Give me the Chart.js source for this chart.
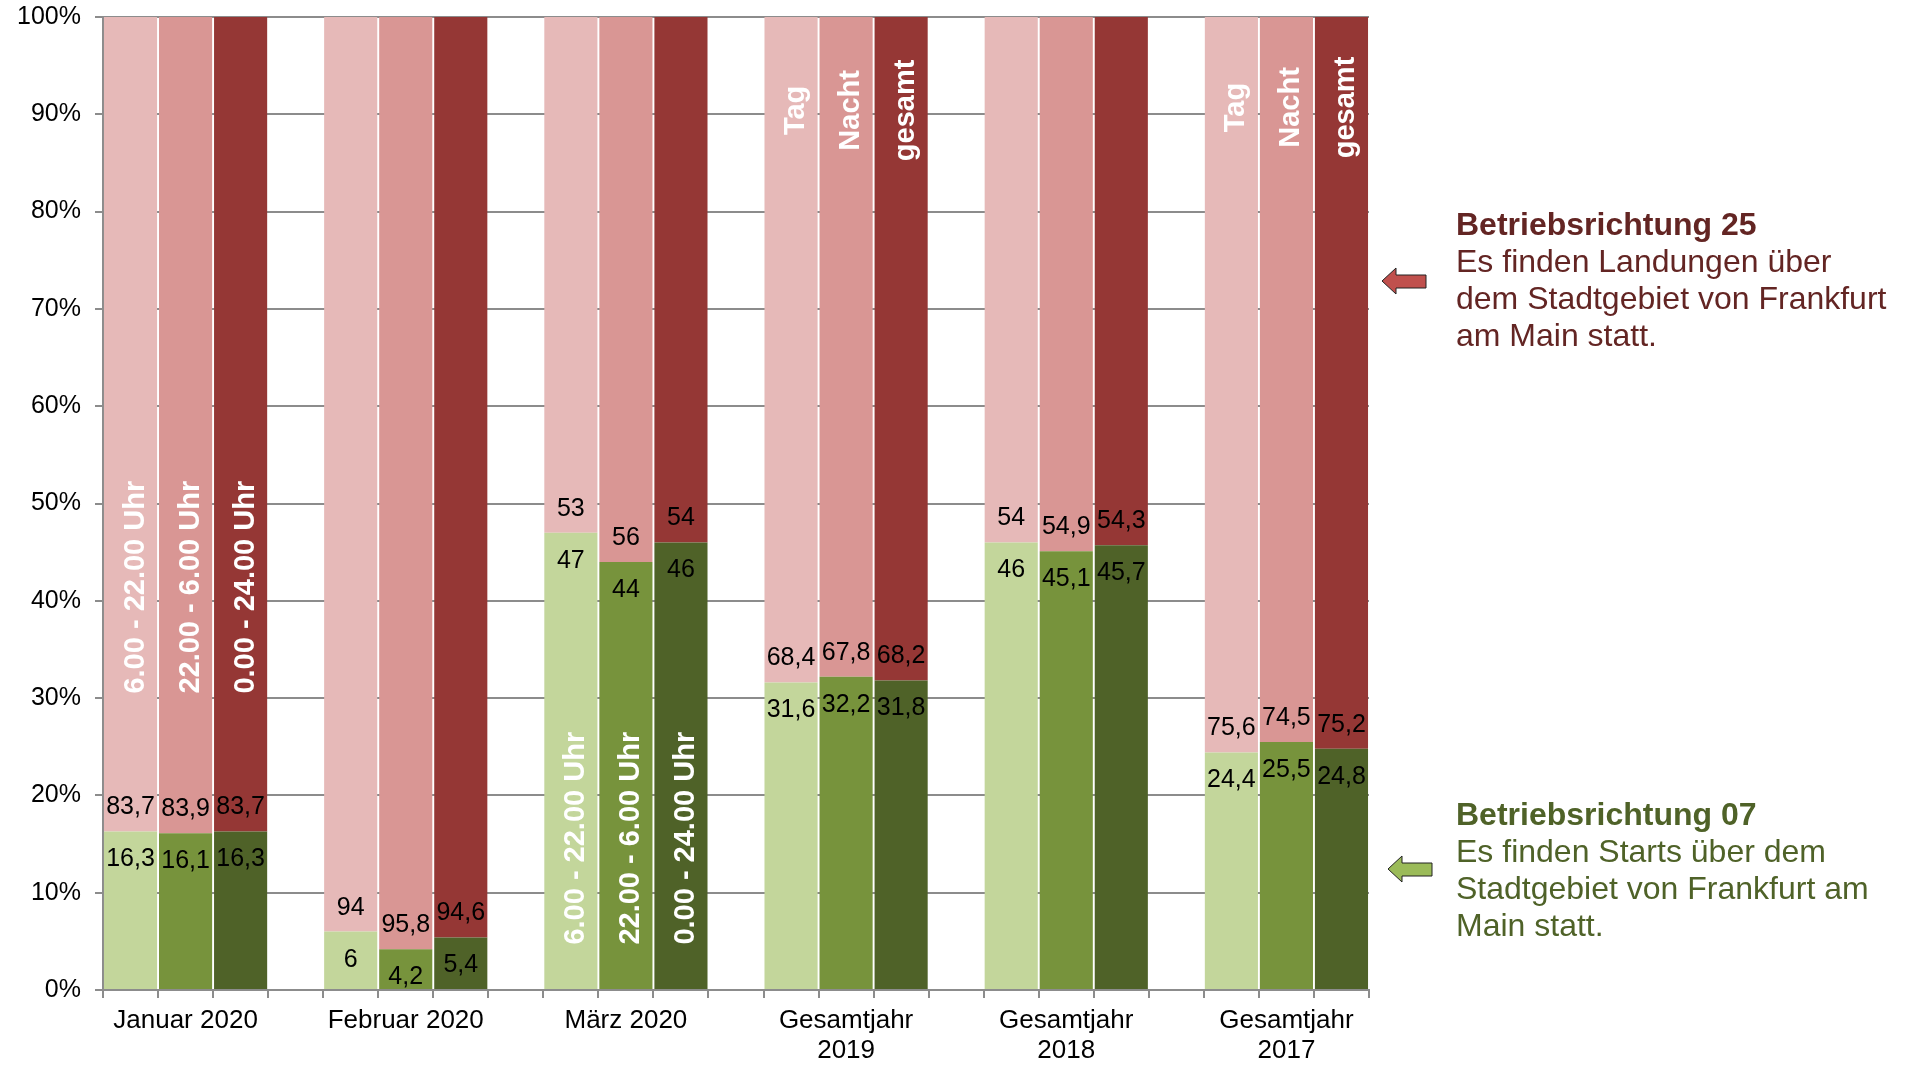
<!DOCTYPE html>
<html>
<head>
<meta charset="utf-8">
<script src="https://cdn.jsdelivr.net/npm/chart.js@4.4.1/dist/chart.umd.min.js"></script>
<style>
  html, body { margin: 0; padding: 0; background: #fff; overflow: hidden; }
</style>
</head>
<body>
<canvas id="c" width="1910" height="1065"></canvas>
<script>
// Werte (Anteil in %) je Zeitraum
const kategorien = ['Januar 2020', 'Februar 2020', 'März 2020', ['Gesamtjahr', '2019'], ['Gesamtjahr', '2018'], ['Gesamtjahr', '2017']];
// Betriebsrichtung 07 (Starts über Frankfurt)
const tag07    = [16.3, 6,    47, 31.6, 46,   24.4];
const nacht07  = [16.1, 4.2,  44, 32.2, 45.1, 25.5];
const gesamt07 = [16.3, 5.4,  46, 31.8, 45.7, 24.8];
// Betriebsrichtung 25 (Landungen über Frankfurt)
const tag25    = [83.7, 94,   53, 68.4, 54,   75.6];
const nacht25  = [83.9, 95.8, 56, 67.8, 54.9, 74.5];
const gesamt25 = [83.7, 94.6, 54, 68.2, 54.3, 75.2];
const yTicks = [0, 10, 20, 30, 40, 50, 60, 70, 80, 90, 100];

const zeitTexte = ['6.00 - 22.00 Uhr', '22.00 - 6.00 Uhr', '0.00 - 24.00 Uhr'];
const artTexte = ['Tag', 'Nacht', 'gesamt'];

const gruen = ['#c3d69b', '#77933c', '#4f6228'];
const rot = ['#e6b9b8', '#d99694', '#953735'];
const grau = '#8c8c8c';
const schrift = "'Liberation Sans', Arial, sans-serif";

// 3 Balken pro Gruppe, dazwischen eine leere Kategorie als Abstand
const labels = [], werte07 = [], werte25 = [], farben07 = [], farben25 = [];
kategorien.forEach((k, i) => {
  [[tag07, tag25], [nacht07, nacht25], [gesamt07, gesamt25]].forEach((s, j) => {
    labels.push(j === 1 ? k : '');
    werte07.push(s[0][i]);
    werte25.push(s[1][i]);
    farben07.push(gruen[j]);
    farben25.push(rot[j]);
  });
  if (i < kategorien.length - 1) {
    labels.push('');
    werte07.push(null); werte25.push(null);
    farben07.push('transparent'); farben25.push('transparent');
  }
});

// gedrehte Beschriftungen in den Balken: Gruppe, Datensatz, Höhe der Mitte in %
const drehTexte = [
  { gruppe: 0, ds: 1, texte: zeitTexte, mitte: 41.4 },
  { gruppe: 2, ds: 0, texte: zeitTexte, mitte: 15.6 },
  { gruppe: 3, ds: 1, texte: artTexte, mitte: 90.4 },
  { gruppe: 5, ds: 1, texte: artTexte, mitte: 90.7 }
];

const beschriftung = {
  id: 'beschriftung',
  afterDatasetsDraw(chart) {
    const ctx = chart.ctx;
    ctx.save();
    ctx.font = '25px ' + schrift;
    ctx.fillStyle = '#000';
    ctx.textAlign = 'center';
    ctx.textBaseline = 'middle';
    chart.data.datasets.forEach((ds, d) => {
      chart.getDatasetMeta(d).data.forEach((el, i) => {
        const v = ds.data[i];
        if (v == null) return;
        const y = d === 0 ? el.y + 28 : el.base - 24;
        ctx.fillText(String(v).replace('.', ','), el.x, y);
      });
    });

    ctx.font = 'bold 29px ' + schrift;
    ctx.fillStyle = '#fff';
    drehTexte.forEach(t => {
      const meta = chart.getDatasetMeta(t.ds);
      t.texte.forEach((txt, j) => {
        const el = meta.data[t.gruppe * 4 + j];
        const y = chart.scales.y.getPixelForValue(t.mitte);
        ctx.save();
        ctx.translate(el.x + 5, y);
        ctx.rotate(-Math.PI / 2);
        ctx.fillText(txt, 0, 0);
        ctx.restore();
      });
    });
    ctx.restore();
  },
  afterDraw(chart) {
    const ctx = chart.ctx;
    ctx.save();
    const block = (x, y0, farbe, titel, zeilen) => {
      ctx.fillStyle = farbe;
      ctx.textAlign = 'left';
      ctx.textBaseline = 'alphabetic';
      ctx.font = 'bold 32px ' + schrift;
      ctx.fillText(titel, x, y0);
      ctx.font = '32px ' + schrift;
      zeilen.forEach((z, i) => ctx.fillText(z, x, y0 + 37 * (i + 1)));
    };
    block(1456, 235, '#632523', 'Betriebsrichtung 25',
      ['Es finden Landungen über', 'dem Stadtgebiet von Frankfurt', 'am Main statt.']);
    block(1456, 825, '#4f6228', 'Betriebsrichtung 07',
      ['Es finden Starts über dem', 'Stadtgebiet von Frankfurt am', 'Main statt.']);

    const pfeil = (x, y, farbe) => {
      // x,y = Spitze links
      ctx.beginPath();
      ctx.moveTo(x, y);
      ctx.lineTo(x + 14, y - 13);
      ctx.lineTo(x + 14, y - 6);
      ctx.lineTo(x + 44, y - 6);
      ctx.lineTo(x + 44, y + 7);
      ctx.lineTo(x + 14, y + 7);
      ctx.lineTo(x + 14, y + 13);
      ctx.closePath();
      ctx.fillStyle = farbe;
      ctx.fill();
      ctx.lineWidth = 1;
      ctx.strokeStyle = '#222';
      ctx.stroke();
    };
    pfeil(1382, 281, '#c0504d');
    pfeil(1388, 869, '#9bbb59');
    ctx.restore();
  }
};

Chart.defaults.font.family = schrift;

new Chart(document.getElementById('c'), {
  type: 'bar',
  data: {
    labels: labels,
    datasets: [
      { label: 'Betriebsrichtung 07', data: werte07, backgroundColor: farben07 },
      { label: 'Betriebsrichtung 25', data: werte25, backgroundColor: farben25 }
    ]
  },
  options: {
    responsive: false,
    animation: false,
    devicePixelRatio: 1,
    categoryPercentage: 1,
    barPercentage: 0.965,
    layout: { padding: { left: 0, right: 541, top: 17, bottom: 0 } },
    plugins: { legend: { display: false }, tooltip: { enabled: false } },
    scales: {
      x: {
        stacked: true,
        grid: { offset: true, drawOnChartArea: false, drawTicks: true, tickLength: 8, color: grau, lineWidth: 2 },
        border: { color: grau, width: 2 },
        ticks: { autoSkip: false, maxRotation: 0, minRotation: 0, padding: 8, color: '#000',
                 font: { size: 26, lineHeight: 1.15 } },
        afterFit(s) { s.height = 75; s.paddingLeft = 0; s.paddingRight = 0; }
      },
      y: {
        stacked: true,
        min: 0, max: 100,
        afterBuildTicks(s) { s.ticks = yTicks.map(v => ({ value: v })); },
        ticks: { callback: v => v + '%', padding: 14, color: '#000', font: { size: 25 } },
        grid: { color: grau, lineWidth: 2, tickLength: 8 },
        border: { color: grau, width: 2 },
        afterFit(s) { s.width = 103; s.paddingTop = 0; s.paddingBottom = 0; }
      }
    }
  },
  plugins: [beschriftung]
});
</script>
</body>
</html>
